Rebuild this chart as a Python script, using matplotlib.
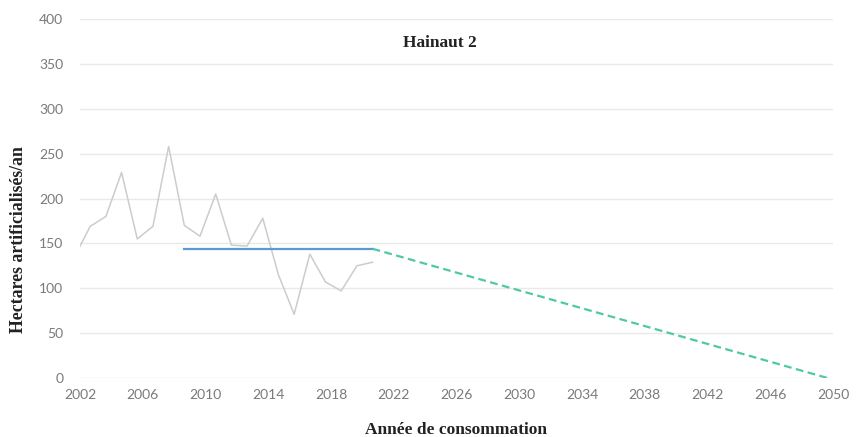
import matplotlib
matplotlib.use("Agg")
import matplotlib.pyplot as plt
import numpy as np

# Data
years = [2002, 2003, 2004, 2005, 2006, 2007, 2008, 2009, 2010, 2011,
         2012, 2013, 2014, 2015, 2016, 2017, 2018, 2019, 2020, 2021]
consumption = [135, 169, 180, 229, 155, 169, 258, 170, 158, 205,
               148, 147, 178, 115, 71, 138, 107, 97, 125, 129]
avg_years = [2009, 2021]
avg_values = [144, 144]
target_years = [2021, 2050]
target_values = [144, 0]
x_ticks = [2002, 2006, 2010, 2014, 2018, 2022, 2026, 2030, 2034, 2038, 2042, 2046, 2050]
y_ticks = [0, 50, 100, 150, 200, 250, 300, 350, 400]

shift = -0.35  # points sit slightly before the category label

fig = plt.figure(figsize=(8.58, 4.37), dpi=100)
ax = fig.add_axes([80/858, 59/437, 753/858, 359/437])

ax.plot(np.array(years) + shift, consumption, color="#cccccc", lw=1.1, zorder=2)
ax.plot(np.array(avg_years) + shift, avg_values, color="#5b9bd5", lw=1.6, zorder=3)
ax.plot(np.array(target_years) + shift, target_values, color="#4fc9a5", lw=1.6,
        ls=(0, (3.5, 2)), zorder=3)

ax.set_xlim(2002, 2050)
ax.set_ylim(0, 400)
ax.set_xticks(x_ticks)
ax.set_yticks(y_ticks)
ax.grid(axis="y", color="#e9e9e9", lw=1)
ax.set_axisbelow(True)
for s in ax.spines.values():
    s.set_visible(False)
ax.tick_params(length=0, labelsize=10, labelcolor="#7a7a7a")
ax.tick_params(axis="x", pad=8)
ax.tick_params(axis="y", pad=12)
for lab in ax.get_xticklabels() + ax.get_yticklabels():
    lab.set_family("Lato")

fig.text(440/858, 1 - 43/437, "Hainaut 2", ha="center", va="center",
         family="Liberation Serif", weight="bold", size=12.5, color="#222222")
fig.text(19/858, 1 - 240/437, "Hectares artificialisés/an", ha="center", va="center",
         rotation=90, family="Liberation Serif", weight="bold", size=12.8, color="#222222")
fig.text(456/858, 1 - 430/437, "Année de consommation", ha="center", va="center",
         family="Liberation Serif", weight="bold", size=12.5, color="#222222")

fig.savefig("out.png", dpi=100, facecolor="white")
